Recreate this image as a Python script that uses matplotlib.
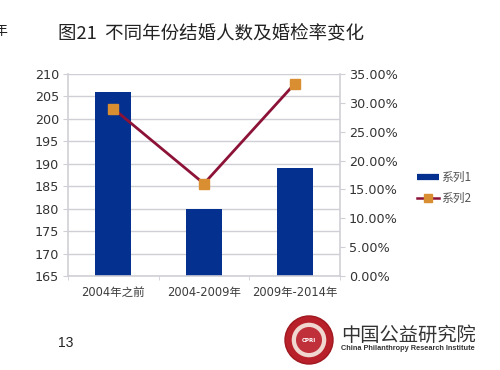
import matplotlib
matplotlib.use('Agg')
import matplotlib.pyplot as plt
from matplotlib.patches import Circle

plt.rcParams['font.family'] = ['DejaVu Sans', 'Noto Sans CJK SC']

# data
categories = ['2004年之前', '2004-2009年', '2009年-2014年']
people = [206, 180, 189]
rate = [29.0, 16.0, 33.3]
left_ticks = [165, 170, 175, 180, 185, 190, 195, 200, 205, 210]
right_ticks = [0, 5, 10, 15, 20, 25, 30, 35]

W, H = 500, 370
cjk = ['Noto Sans CJK SC', 'DejaVu Sans']
grey = '#cfcfd6'

fig = plt.figure(figsize=(W / 100, H / 100), dpi=100)
fig.set_facecolor('white')

ax = fig.add_axes([68 / W, 1 - 276 / H, 272 / W, 202 / H])
x = [0, 1, 2]
ax.bar(x, people, width=0.4, color='#04318f', zorder=2)
ax.set_xlim(-0.5, 2.5)
ax.set_ylim(165, 210)
ax.set_yticks(left_ticks)
ax.set_xticks(x)
ax.set_xticks([-0.5, 0.5, 1.5, 2.5], minor=True)
ax.set_xticklabels(categories, fontsize=8.3, color='#3c3c3c')
ax.tick_params(axis='y', labelsize=9.2, colors='#333333', length=3.5, color=grey, pad=3)
ax.tick_params(axis='x', length=0, pad=7)
ax.tick_params(axis='x', which='minor', length=3, color=grey)
ax.grid(axis='y', color=grey, linewidth=1, zorder=0)
for s in ['top', 'right']:
    ax.spines[s].set_visible(False)
for s in ['left', 'bottom']:
    ax.spines[s].set_color(grey)
    ax.spines[s].set_linewidth(1.2)

ax2 = ax.twinx()
ax2.plot(x, rate, color='#8c1238', linewidth=2, marker='s', markersize=6.5,
         markerfacecolor='#d98e32', markeredgecolor='#d98e32', zorder=3)
ax2.set_ylim(0, 35)
ax2.set_yticks(right_ticks)
ax2.set_yticklabels(['%.2f%%' % v for v in right_ticks])
ax2.tick_params(axis='y', labelsize=9.2, colors='#333333', length=3.5, color=grey, pad=3)
for s in ['top', 'left', 'bottom']:
    ax2.spines[s].set_visible(False)
ax2.spines['right'].set_color(grey)
ax2.spines['right'].set_linewidth(1.2)

# legend
fig.add_artist(plt.Line2D([417 / W, 439 / W], [1 - 177 / H] * 2, color='#04318f', linewidth=4.5, solid_capstyle='butt'))
fig.add_artist(plt.Line2D([417 / W, 439 / W], [1 - 198 / H] * 2, color='#8c1238', linewidth=1.8))
fig.add_artist(plt.Line2D([428 / W], [1 - 198 / H], marker='s', markersize=6, color='#d98e32'))
fig.text(441 / W, 1 - 177 / H, '系列1', fontsize=8.5, color='#555555', va='center', family=cjk)
fig.text(441 / W, 1 - 198 / H, '系列2', fontsize=8.5, color='#555555', va='center', family=cjk)

# slide text
fig.text(58 / W, 1 - 33 / H, '图21  不同年份结婚人数及婚检率变化', fontsize=13.3, color='#222222', va='center', family=cjk)
fig.text(-7 / W, 1 - 31 / H, '年', fontsize=10, color='#222222', va='center', family=cjk)
fig.text(58 / W, 1 - 343 / H, '13', fontsize=10, color='#222222', va='center', family='Liberation Sans')

# logo
logo = fig.add_axes([0, 0, 1, 1], facecolor='none')
logo.set_xlim(0, W)
logo.set_ylim(H, 0)
logo.axis('off')
logo.add_patch(Circle((309, 340), 24, facecolor='#b8202a', edgecolor='#a01820'))
logo.add_patch(Circle((309, 340), 18, facecolor='#f0d8d0', edgecolor='#b8202a', linewidth=1))
logo.add_patch(Circle((309, 340), 13, facecolor='#c0303a', edgecolor='none'))
logo.text(309, 340, 'CPRI', fontsize=4, color='white', ha='center', va='center', weight='bold')
logo.text(341, 335, '中国公益研究院', fontsize=13.9, color='#333333', va='center', family=cjk)
logo.text(341, 349, 'China Philanthropy Research Institute', fontsize=5.3, color='#333333',
          va='center', weight='bold', family='Liberation Sans')

fig.savefig('out.png', dpi=100)
